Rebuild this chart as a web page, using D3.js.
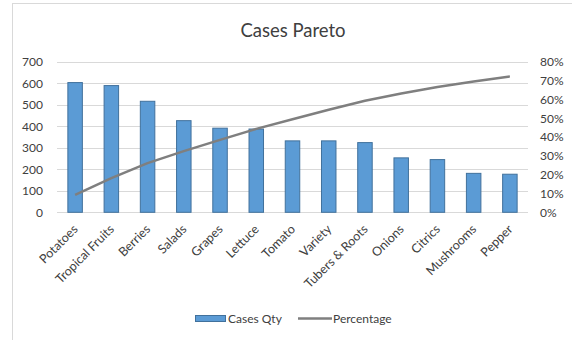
<!DOCTYPE html>
<html><head><meta charset="utf-8">
<script src="https://cdn.jsdelivr.net/npm/d3@7"></script>
<style>body{margin:0;background:#fff}svg{display:block}text{font-family:Lato,"Open Sans",sans-serif;fill:#404040}</style>
</head><body><svg id="c" width="572" height="340"></svg>
<script>
const categories = ["Potatoes","Tropical Fruits","Berries","Salads","Grapes","Lettuce","Tomato","Variety","Tubers & Roots","Onions","Citrics","Mushrooms","Pepper"];
const casesQty = [603,589,516,426,391,387,332,332,324,253,245,181,177];
const percentage = [9.2,18.2,26.1,32.5,38.5,44.3,49.4,54.5,59.3,63.1,66.6,69.5,72.2];
const leftTicks = [0,100,200,300,400,500,600,700];
const rightTicks = [0,10,20,30,40,50,60,70,80];

const svg = d3.select("#c");
const W = 572, H = 340;
const m = {l:57, r:528, t:61.7, b:212.3};

svg.append("rect").attr("x",12.5).attr("y",3.5).attr("width",W).attr("height",H).attr("fill","#fff").attr("stroke","#d9d9d9");

svg.append("text").attr("x",293).attr("y",36.5).attr("text-anchor","middle").style("font-size","18.5px").style("fill","#404040").text("Cases Pareto");

const x = d3.scaleBand().domain(categories).range([m.l,m.r]).paddingInner(0.6).paddingOuter(0.3);
const xc = d => x(d)+x.bandwidth()/2;
const yL = d3.scaleLinear().domain([0,700]).range([m.b,m.t]);
const yR = d3.scaleLinear().domain([0,80]).range([m.b,m.t]);

// gridlines
svg.append("g").selectAll("line").data(leftTicks).join("line")
  .attr("x1",m.l).attr("x2",m.r).attr("y1",d=>Math.round(yL(d))+0.5).attr("y2",d=>Math.round(yL(d))+0.5)
  .attr("stroke","#d9d9d9").attr("stroke-width",1);

// left axis labels
const gl = svg.append("g").attr("transform",`translate(43,0)`).call(d3.axisLeft(yL).tickValues(leftTicks).tickSize(0).tickPadding(0));
gl.select(".domain").remove();
gl.selectAll("text").style("font-size","12px").style("font-family","Lato").attr("fill","#404040");

// right axis labels
const gr = svg.append("g").attr("transform",`translate(540,0)`).call(d3.axisRight(yR).tickValues(rightTicks).tickFormat(d=>d+"%").tickSize(0).tickPadding(0));
gr.select(".domain").remove();
gr.selectAll("text").style("font-size","12px").style("font-family","Lato").attr("fill","#404040");

// bars
svg.append("g").selectAll("rect").data(categories).join("rect")
  .attr("x",d=>x(d)).attr("width",x.bandwidth())
  .attr("y",(d,i)=>yL(casesQty[i])).attr("height",(d,i)=>yL(0)-yL(casesQty[i]))
  .attr("fill","#5b9bd5").attr("stroke","#41719c").attr("stroke-width",1);

// line
const line = d3.line().x((d,i)=>xc(categories[i])).y(d=>yR(d));
svg.append("path").datum(percentage).attr("d",line).attr("fill","none").attr("stroke","#7f7f7f").attr("stroke-width",2.5).attr("stroke-linejoin","round");

// category labels
svg.append("g").selectAll("text").data(categories).join("text")
  .attr("transform",d=>`translate(${xc(d)+3.5},${230}) rotate(-45)`)
  .attr("text-anchor","end")
  .style("font-size","12.5px").text(d=>d);

// legend
const lg = svg.append("g");
lg.append("rect").attr("x",195.5).attr("y",315.5).attr("width",30).attr("height",6).attr("fill","#5b9bd5").attr("stroke","#41719c");
lg.append("text").attr("x",228).attr("y",323).style("font-size","12px").text("Cases Qty");
lg.append("line").attr("x1",298).attr("x2",332).attr("y1",318.5).attr("y2",318.5).attr("stroke","#7f7f7f").attr("stroke-width",2.5);
lg.append("text").attr("x",333).attr("y",323).style("font-size","12px").text("Percentage");
</script></body></html>
